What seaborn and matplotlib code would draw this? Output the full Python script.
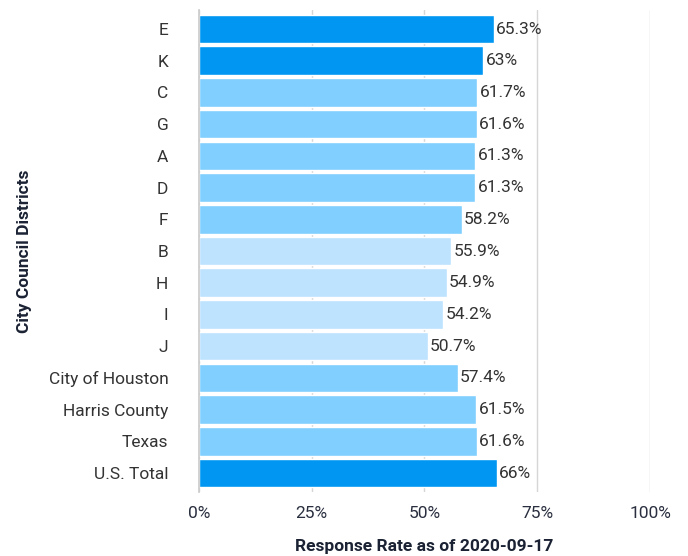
import matplotlib
matplotlib.use("Agg")
import matplotlib.pyplot as plt
import seaborn as sns
import pandas as pd
from matplotlib.ticker import FuncFormatter

categories = ["E", "K", "C", "G", "A", "D", "F", "B", "H", "I", "J",
              "City of Houston", "Harris County", "Texas", "U.S. Total"]
values = [65.3, 63, 61.7, 61.6, 61.3, 61.3, 58.2, 55.9, 54.9, 54.2, 50.7,
          57.4, 61.5, 61.6, 66]
labels = ["65.3%", "63%", "61.7%", "61.6%", "61.3%", "61.3%", "58.2%", "55.9%",
          "54.9%", "54.2%", "50.7%", "57.4%", "61.5%", "61.6%", "66%"]
tiers = ["dark", "dark", "mid", "mid", "mid", "mid", "mid", "light", "light",
         "light", "light", "mid", "mid", "mid", "dark"]
tier_colors = {"dark": "#0096F2", "mid": "#80CFFF", "light": "#BDE3FF"}

df = pd.DataFrame({"cat": categories, "val": values, "tier": tiers})

sns.set_theme(style="white")
plt.rcParams['font.family'] = ['Roboto', 'DejaVu Sans']

fig = plt.figure(figsize=(6.88, 5.56), dpi=100)
ax = fig.add_axes([0.289, 0.115, 0.656, 0.867])

sns.barplot(data=df, x="val", y="cat", hue="tier", palette=tier_colors,
            dodge=False, legend=False, ax=ax, width=0.9, saturation=1,
            edgecolor="white", linewidth=1, order=categories)

for i, (v, lab) in enumerate(zip(values, labels)):
    ax.text(v + 0.5, i, lab, va="center", ha="left", fontsize=12.5, color="#333333")

ax.set_xlim(0, 100)
ax.set_xticks([0, 25, 50, 75, 100])
ax.xaxis.set_major_formatter(FuncFormatter(lambda x, p: f"{int(x)}%"))
ax.grid(axis="x", color="#d6d6d6", linewidth=1)
ax.set_axisbelow(True)
for s in ["top", "right", "bottom"]:
    ax.spines[s].set_visible(False)
ax.spines["left"].set_color("#cccccc")
ax.tick_params(axis="x", length=0, labelsize=12.5, labelcolor="#2a2f3f", pad=10)
ax.tick_params(axis="y", length=0, labelsize=12.5, labelcolor="#333333", pad=22)
ax.set_xlabel("Response Rate as of 2020-09-17", fontsize=12.5, fontweight="bold",
              color="#1a2233", labelpad=13)
ax.set_ylabel("City Council Districts", fontsize=12.5, fontweight="bold",
              color="#1a2233", labelpad=12)
ax.set_ylim(14.6, -0.6)

fig.savefig("out.png", dpi=100)
